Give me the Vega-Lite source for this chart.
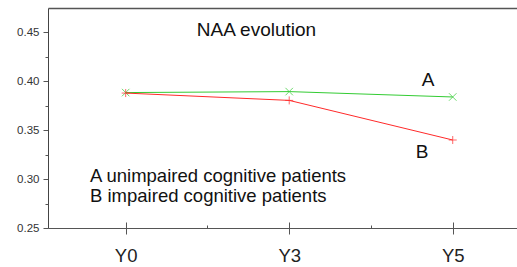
{
  "$schema": "https://vega.github.io/schema/vega-lite/v6.json",
  "width": 469,
  "height": 220,
  "autosize": {"type": "none"},
  "padding": {"left": 48, "top": 8, "right": 0, "bottom": 39},
  "background": "white",
  "config": {"view": {"stroke": null}, "font": "Liberation Sans"},
  "datasets": {
    "naa": [
      {"group": "A", "idx": 0, "visit": "Y0", "naa": 0.3885},
      {"group": "A", "idx": 1, "visit": "Y3", "naa": 0.3895},
      {"group": "A", "idx": 2, "visit": "Y5", "naa": 0.3840},
      {"group": "B", "idx": 0, "visit": "Y0", "naa": 0.3880},
      {"group": "B", "idx": 1, "visit": "Y3", "naa": 0.3805},
      {"group": "B", "idx": 2, "visit": "Y5", "naa": 0.3400}
    ],
    "title": [
      {"px": 0.80, "py": 0.453, "label": "NAA evolution"}
    ],
    "centered": [
      {"px": 1.849, "py": 0.401, "label": "A"},
      {"px": 1.812, "py": 0.3276, "label": "B"}
    ],
    "left": [
      {"px": -0.218, "py": 0.303, "label": "A unimpaired cognitive patients"},
      {"px": -0.218, "py": 0.2827, "label": "B impaired cognitive patients"}
    ]
  },
  "resolve": {"axis": {"x": "independent", "y": "independent"}},
  "layer": [
    {
      "data": {"name": "naa"},
      "mark": {"type": "line", "strokeWidth": 1},
      "encoding": {
        "x": {
          "field": "idx", "type": "quantitative",
          "scale": {"domain": [-0.475, 2.393], "nice": false, "zero": false},
          "axis": {
            "orient": "bottom", "title": null, "values": [0, 1, 2],
            "labelExpr": "datum.value == 0 ? 'Y0' : datum.value == 1 ? 'Y3' : 'Y5'",
            "ticks": false, "tickSize": 0, "grid": false,
            "domainColor": "#555", "labelFontSize": 18.5, "labelColor": "#222",
            "labelPadding": 18, "labelFont": "Liberation Sans"
          }
        },
        "y": {
          "field": "naa", "type": "quantitative",
          "scale": {"domain": [0.25, 0.475], "nice": false, "zero": false},
          "axis": {
            "orient": "left", "title": null, "values": [0.25, 0.3, 0.35, 0.4, 0.45],
            "format": ".2f", "grid": false, "tickSize": 5, "tickColor": "#555",
            "domainColor": "#444", "labelFontSize": 11.5, "labelColor": "#333",
            "labelPadding": 4, "labelFont": "Liberation Sans"
          }
        },
        "color": {
          "field": "group", "type": "nominal",
          "scale": {"domain": ["A", "B"], "range": ["#33cc33", "#ff2a2a"]},
          "legend": null
        }
      }
    },
    {
      "data": {"name": "naa"},
      "transform": [{"filter": "datum.group == 'A'"}],
      "mark": {"type": "point", "shape": "M-1,-1L1,1M1,-1L-1,1", "size": 56, "filled": false, "strokeWidth": 1, "color": "#33cc33"},
      "encoding": {
        "x": {
          "field": "idx", "type": "quantitative",
          "axis": {
            "orient": "bottom", "title": null, "values": [0, 1, 2], "labels": false,
            "domain": false, "grid": false, "tickSize": 12, "offset": -6, "tickColor": "#555"
          }
        },
        "y": {
          "field": "naa", "type": "quantitative",
          "axis": {
            "orient": "left", "title": null, "values": [0.275, 0.325, 0.375, 0.425],
            "labels": false, "domain": false, "grid": false, "tickSize": 3, "tickColor": "#555"
          }
        }
      }
    },
    {
      "data": {"name": "naa"},
      "transform": [{"filter": "datum.group == 'B'"}],
      "mark": {"type": "point", "shape": "M-1,0L1,0M0,-1L0,1", "size": 64, "filled": false, "strokeWidth": 1, "color": "#ff2a2a"},
      "encoding": {
        "x": {
          "field": "idx", "type": "quantitative",
          "axis": {
            "orient": "top", "title": null, "labels": false, "ticks": false,
            "grid": false, "domainColor": "#555", "domainWidth": 1.5
          }
        },
        "y": {"field": "naa", "type": "quantitative", "axis": null}
      }
    },
    {
      "data": {"name": "title"},
      "mark": {"type": "text", "align": "center", "baseline": "middle", "fontSize": 19, "color": "#111", "font": "Liberation Sans"},
      "encoding": {
        "x": {
          "field": "px", "type": "quantitative",
          "axis": {
            "orient": "bottom", "title": null, "values": [0.5, 1.5], "labels": false,
            "domain": false, "grid": false, "tickSize": 3, "offset": -3, "tickColor": "#555"
          }
        },
        "y": {"field": "py", "type": "quantitative", "axis": null},
        "text": {"field": "label"}
      }
    },
    {
      "data": {"name": "centered"},
      "mark": {"type": "text", "align": "center", "baseline": "middle", "fontSize": 19, "color": "#111", "font": "Liberation Sans"},
      "encoding": {
        "x": {"field": "px", "type": "quantitative", "axis": null},
        "y": {"field": "py", "type": "quantitative", "axis": null},
        "text": {"field": "label"}
      }
    },
    {
      "data": {"name": "left"},
      "mark": {"type": "text", "align": "left", "baseline": "middle", "fontSize": 18.5, "color": "#111", "font": "Liberation Sans"},
      "encoding": {
        "x": {"field": "px", "type": "quantitative", "axis": null},
        "y": {"field": "py", "type": "quantitative", "axis": null},
        "text": {"field": "label"}
      }
    }
  ]
}
